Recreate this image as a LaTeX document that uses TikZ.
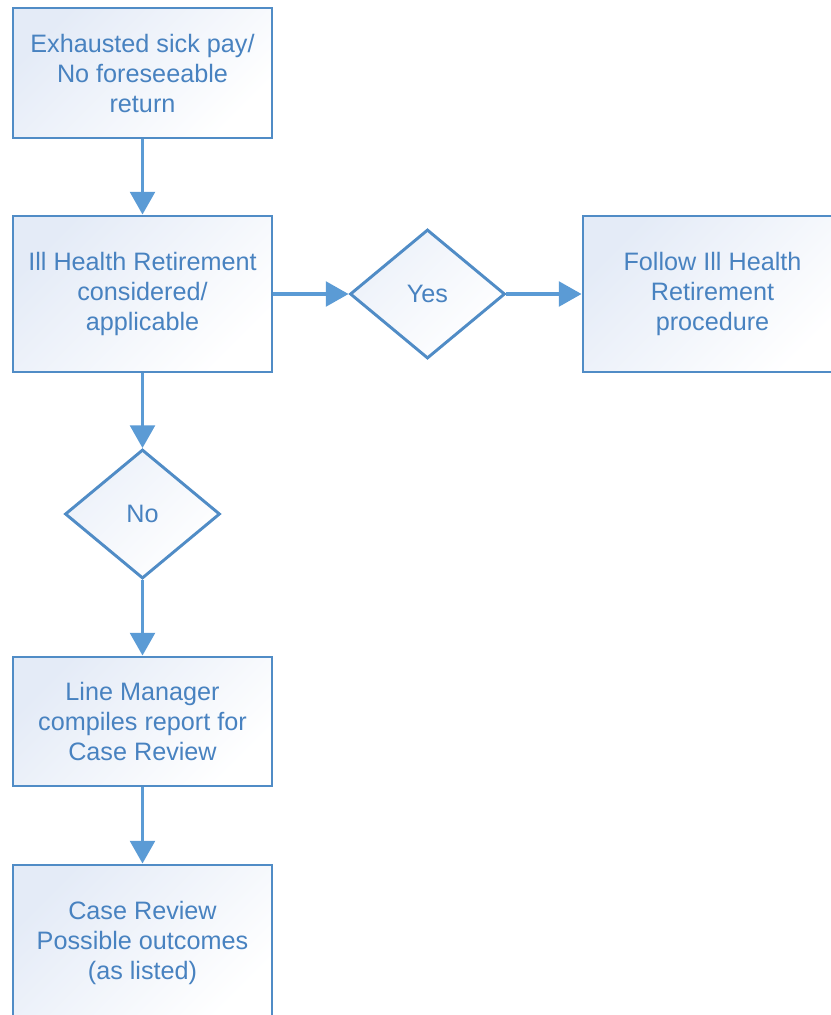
\documentclass[tikz,border=0pt]{standalone}
\usepackage{fontspec}
\setmainfont{Liberation Sans}
\usetikzlibrary{shapes.geometric,arrows.meta}
\definecolor{edgeblue}{RGB}{80,140,198}
\definecolor{arrowblue}{RGB}{91,155,213}
\definecolor{textblue}{RGB}{72,130,192}
\definecolor{fillblue}{RGB}{228,235,247}
\tikzset{
  px/.style={x=0.75pt,y=-0.75pt},
  boxnode/.style={rectangle, draw=edgeblue, line width=2.2pt, minimum width=194.25pt,
    top color=fillblue, bottom color=white, shading angle=45,
    text=textblue, align=center, inner sep=0pt,
    font=\fontsize{18.9}{22.6}\selectfont},
  decnode/.style={diamond, draw=edgeblue, line width=2.2pt, minimum width=116.25pt, minimum height=96.75pt,
    inner sep=0pt, top color=fillblue!70, bottom color=white, shading angle=45,
    text=textblue, font=\fontsize{18.9}{22.6}\selectfont},
  flow/.style={draw=arrowblue, line width=2.6pt, -{Triangle[width=18.5pt,length=17pt]}}
}
\begin{document}
\begin{tikzpicture}[px]
\useasboundingbox (0,0) rectangle (831,1015);
\clip (0,0) rectangle (831,1015);
\node[boxnode, minimum height=97.5pt, text depth=-2pt] (b1) at (142.5,73) {Exhausted sick pay/\\No foreseeable\\return};
\node[boxnode, minimum height=117pt] (b2) at (142.5,294) {Ill Health Retirement\\considered/\\applicable};
\node[decnode] (yes) at (427.5,294) {Yes};
\node[boxnode, minimum height=117pt] (b3) at (712.5,294) {Follow Ill Health\\Retirement\\procedure};
\node[decnode] (no) at (142.5,514) {No};
\node[boxnode, minimum height=96.75pt] (b4) at (142.5,721.5) {Line Manager\\compiles report for\\Case Review};
\node[boxnode, minimum height=117pt] (b5) at (142.5,943) {Case Review\\Possible outcomes\\(as listed)};
\draw[flow] (b1) -- (b2);
\draw[flow] (b2) -- (yes);
\draw[flow] (yes) -- (b3);
\draw[flow] (b2) -- (no);
\draw[flow] (no) -- (b4);
\draw[flow] (b4) -- (b5);
\end{tikzpicture}
\end{document}
